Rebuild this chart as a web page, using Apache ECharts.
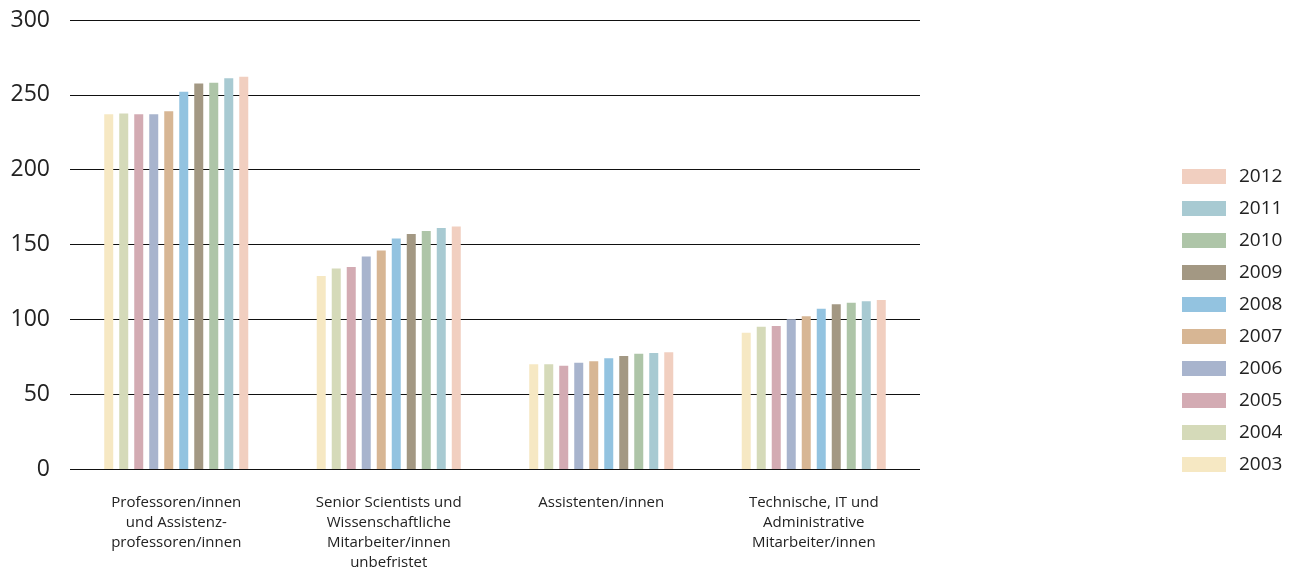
<!DOCTYPE html>
<html>
<head>
<meta charset="utf-8">
<script src="https://cdn.jsdelivr.net/npm/echarts@6/dist/echarts.min.js"></script>
<style>
  html, body { margin: 0; padding: 0; background: #fff; }
  #chart { width: 1297px; height: 573px; }
</style>
</head>
<body>
<div id="chart"></div>
<script>
// Staff categories (x axis)
const categories = [
  'Professoren/innen\nund Assistenz-\nprofessoren/innen',
  'Senior Scientists und\nWissenschaftliche\nMitarbeiter/innen\nunbefristet',
  'Assistenten/innen',
  'Technische, IT und\nAdministrative\nMitarbeiter/innen'
];

const years = ['2003', '2004', '2005', '2006', '2007', '2008', '2009', '2010', '2011', '2012'];

// Headcount per year, one value per category
const v2003 = [237, 129, 70, 91];
const v2004 = [237.5, 134, 70, 95];
const v2005 = [237, 135, 69, 95.5];
const v2006 = [237, 142, 71, 100];
const v2007 = [239, 146, 72, 102];
const v2008 = [252, 154, 74, 107];
const v2009 = [257.5, 157, 75.5, 110];
const v2010 = [258, 159, 77, 111];
const v2011 = [261, 161, 77.5, 112];
const v2012 = [262, 162, 78, 113];

const seriesValues = [v2003, v2004, v2005, v2006, v2007, v2008, v2009, v2010, v2011, v2012];

const colors = ['#f6e8c3', '#d5dab9', '#d3abb3', '#a8b4cd', '#d7b694', '#93c3e0', '#a39883', '#aec5a8', '#a8cad2', '#f1cfc0'];

const yTicks = { min: 0, max: 300, interval: 50 };

const font = "'Open Sans', 'Noto Sans', sans-serif";

const chart = echarts.init(document.getElementById('chart'), null, { renderer: 'canvas' });

chart.setOption({
  animation: false,
  backgroundColor: '#ffffff',
  color: colors,
  grid: { left: 70, right: 377, top: 20, bottom: 102 },
  legend: {
    orient: 'vertical',
    left: 1177,
    top: 160,
    itemWidth: 44,
    itemHeight: 15,
    itemGap: 9,
    icon: 'rect',
    data: years.slice().reverse(),
    textStyle: { fontFamily: font, fontSize: 19, lineHeight: 23, color: '#222', padding: [0, 0, 0, 8] }
  },
  xAxis: {
    type: 'category',
    data: categories,
    axisLine: { show: false },
    axisTick: { show: false },
    axisLabel: {
      interval: 0,
      margin: 24,
      fontFamily: font,
      fontSize: 15,
      lineHeight: 20,
      color: '#222',
      align: 'center'
    }
  },
  yAxis: {
    type: 'value',
    min: yTicks.min,
    max: yTicks.max,
    interval: yTicks.interval,
    axisLine: { show: false },
    axisTick: { show: false },
    axisLabel: { margin: 20, fontFamily: font, fontSize: 23, color: '#222' },
    splitLine: { show: true, lineStyle: { color: '#111', width: 1 } }
  },
  series: years.map((y, i) => ({
    name: y,
    type: 'bar',
    data: seriesValues[i],
    barWidth: 9,
    barGap: '66.7%',
    itemStyle: { color: colors[i] }
  }))
});
</script>
</body>
</html>
